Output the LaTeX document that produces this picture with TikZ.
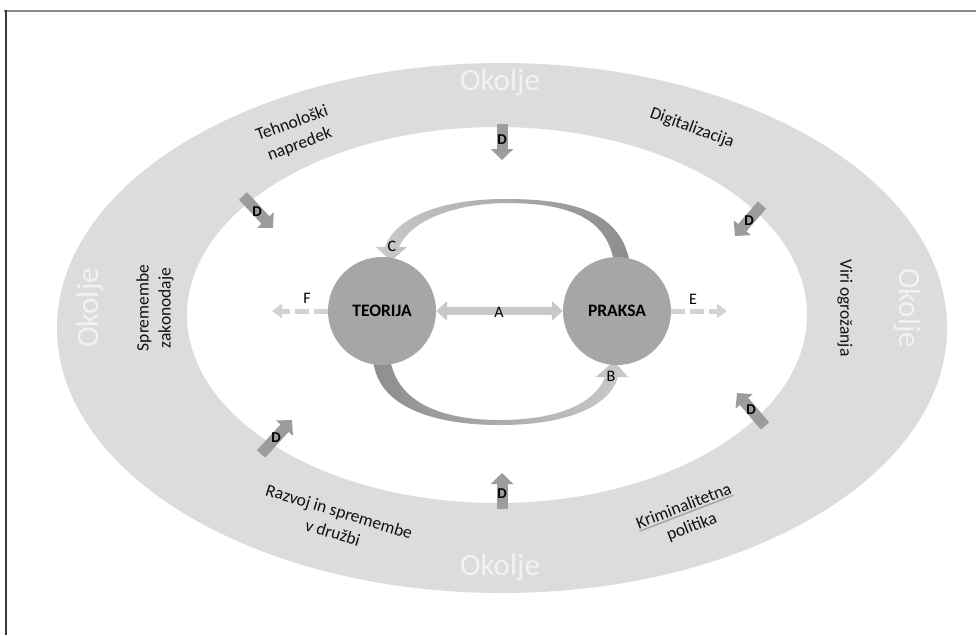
\documentclass[tikz,border=0pt]{standalone}
\usepackage{fontspec}
\setmainfont{Carlito}
\usetikzlibrary{arrows.meta}
\definecolor{ringgray}{HTML}{DCDCDC}
\definecolor{circgray}{HTML}{A6A6A6}
\definecolor{darrgray}{HTML}{9C9C9C}
\definecolor{aarrgray}{HTML}{C8C8C8}
\definecolor{dashgray}{HTML}{D3D3D3}
\definecolor{okolgray}{HTML}{F2F2F2}
\definecolor{txtgray}{HTML}{111111}
\definecolor{topframe}{HTML}{8A8A8A}
\definecolor{leftframe}{HTML}{3A3A3A}
\definecolor{arclight}{HTML}{CACACA}
\definecolor{arcmid}{HTML}{BEBEBE}
\definecolor{arcdark}{HTML}{8C8C8C}
\definecolor{ulgray}{HTML}{A8A8A8}
\newsavebox\krimbox
\begin{document}
\begin{tikzpicture}[x=1pt,y=-1pt,
  ringlabel/.style={font=\fontsize{17.5}{22}\selectfont, text=txtgray, align=center, inner sep=0pt},
  oklabel/.style={font=\fontsize{31}{31}\selectfont, text=okolgray, inner sep=0pt},
  circnode/.style={circle, fill=circgray, minimum size=108pt, inner sep=0pt, font=\fontsize{17.5}{17.5}\selectfont\bfseries},
  letter/.style={font=\fontsize{16}{16}\selectfont, inner sep=0pt},
  dlabel/.style={font=\fontsize{15}{15}\selectfont\bfseries, inner sep=0pt},
  darrow/.style={draw=darrgray, line width=11pt, -{Triangle[width=22pt,length=11pt]}},
  aarrow/.style={draw=aarrgray, line width=8pt, {Triangle[width=19pt,length=11pt]}-{Triangle[width=19pt,length=11pt]}},
  dasharrow/.style={draw=dashgray, line width=5pt, dash pattern=on 14pt off 5pt, -{Triangle[width=14pt,length=10pt]}}
]
\useasboundingbox (0,0) rectangle (976,635);
\fill[white] (0,0) rectangle (976,635);
% frame
\draw[topframe, line width=2pt] (4,11) -- (976,11);
\draw[leftframe, line width=2pt] (6,10) -- (6,635);
% ring
\fill[ringgray, even odd rule] (502,328) ellipse [x radius=445pt, y radius=265pt]
  (497,315) ellipse [x radius=310pt, y radius=188pt];
% Okolje labels
\node[oklabel] (oktop) at (500,82) {Okolje};
\node[oklabel] (okbot) at (500,567) {Okolje};
\node[oklabel, rotate=90] (okleft) at (90,308) {Okolje};
\node[oklabel, rotate=-90] (okright) at (908,308) {Okolje};
% ring labels
\node[ringlabel, rotate=20] (tech) at (296,134) {Tehnološki\\napredek};
\node[ringlabel, rotate=-20] (digi) at (692,128) {Digitalizacija};
\node[ringlabel, rotate=90] (zak) at (155,308) {Spremembe\\zakonodaje};
\node[ringlabel, rotate=-90] (viri) at (845,308) {Viri ogrožanja};
\node[ringlabel, rotate=-17] (razv) at (336,522) {Razvoj in spremembe\\v družbi};
\node[ringlabel, rotate=21] (krim) at (688,517) {\sbox\krimbox{Kriminalitetna}\rlap{\textcolor{ulgray}{\rule[-3pt]{\wd\krimbox}{1.6pt}}}\usebox\krimbox\\politika};
% D arrows
\coordinate (d1s) at (502,124); \coordinate (d1t) at (502,160);
\coordinate (d2s) at (243,196); \coordinate (d2t) at (273,228);
\coordinate (d3s) at (762,205); \coordinate (d3t) at (735,236);
\coordinate (d4s) at (261,454); \coordinate (d4t) at (292,420);
\coordinate (d5s) at (502,509); \coordinate (d5t) at (502,473);
\coordinate (d6s) at (765,426); \coordinate (d6t) at (737,393);
\foreach \i in {1,...,6} {\draw[darrow] (d\i s) -- (d\i t);}
\node[dlabel] (dl1) at (502,140) {D};
\node[dlabel] (dl2) at (257,212) {D};
\node[dlabel] (dl3) at (749,221) {D};
\node[dlabel] (dl4) at (276,438) {D};
\node[dlabel] (dl5) at (502,494) {D};
\node[dlabel] (dl6) at (751,410) {D};
% upper curved arrow (C)
\path[left color=arclight, middle color=arcmid, right color=arcdark]
  (631,272) .. controls (626,212) and (575,199) .. (505,199)
  .. controls (440,199) and (395,218) .. (385,247)
  -- (376,247) -- (391,261) -- (407,247) -- (399,247)
  .. controls (410,222) and (450,204) .. (505,203)
  .. controls (570,203) and (612,218) .. (615,272) -- cycle;
% lower curved arrow (B)
\path[left color=arcdark, middle color=arcmid, right color=arclight]
  (373,350) .. controls (370,405) and (430,425) .. (500,425)
  .. controls (570,425) and (610,405) .. (618,377)
  -- (628,377) -- (614,361) -- (596,377) -- (605,377)
  .. controls (596,402) and (560,420) .. (500,420)
  .. controls (440,420) and (392,402) .. (389,350) -- cycle;
% circles
\node[circnode] (teorija) at (382,311) {TEORIJA};
\node[circnode] (praksa) at (617,311) {PRAKSA};
% A arrow
\draw[aarrow] (teorija) -- (praksa);
\node[letter] (la) at (499,312) {A};
% dashed arrows
\coordinate (ftip) at (272,311);
\coordinate (etip) at (727,311);
\draw[dasharrow] (teorija.west) -- (ftip);
\draw[dasharrow] (praksa.east) -- (etip);
\node[letter] (lf) at (307,298) {F};
\node[letter] (le) at (693,299) {E};
\node[letter] (lc) at (392,246) {C};
\node[letter] (lb) at (611,376) {B};
\end{tikzpicture}
\end{document}
